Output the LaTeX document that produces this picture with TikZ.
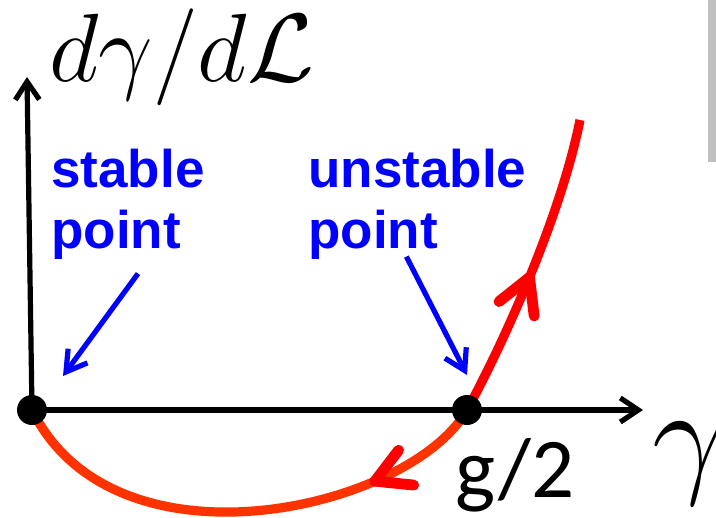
\RequirePackage{fix-cm}
\documentclass[tikz,border=0pt]{standalone}
\usepackage{fontspec}
\newfontfamily\labelfont{Liberation Sans}
\newfontfamily\valfont{Carlito}
\usetikzlibrary{arrows.meta, calc, decorations.markings, backgrounds}

\definecolor{flowred}{RGB}{255,0,0}
\definecolor{floworange}{RGB}{255,51,0}
\definecolor{bargray}{RGB}{192,192,192}

\begin{document}
\begin{tikzpicture}[
    x=0.5pt, y=-0.5pt,
    dotnode/.style={circle, fill=black, minimum size=15pt, inner sep=0pt},
    axis/.style={-{Straight Barb[length=9pt, width=12pt]}, line width=2.6pt},
    flow/.style={line width=4.6pt, color=#1},
    pointer/.style={-{Straight Barb[length=10pt, width=12pt]}, line width=2.6pt, blue},
    lbl/.style={font=\labelfont\bfseries\fontsize{26.5}{30.5}\selectfont, text=blue,
                align=left, inner sep=0pt, anchor=west},
    midarrow/.style={postaction={decorate, decoration={markings,
        mark=at position #1 with {\draw[flowred, line width=5.4pt, line cap=round,
          line join=round] (-17pt,9.5pt) -- (0pt,0pt) -- (-17pt,-9.5pt);}}}}
  ]

  \useasboundingbox (0,0) rectangle (716,518);
  \fill[bargray] (708,0) rectangle (716,162);

  \node[dotnode] (stable) at (32,410) {};
  \node[dotnode] (unstable) at (467,410) {};
  \coordinate (ytop) at (27,77);
  \coordinate (xend) at (643,410);
  \coordinate (flowend) at (580,120);

  % axes and flow lines go under the dots
  \begin{scope}[on background layer]
    \draw[axis] (stable.center) -- (ytop);
    \draw[axis] (stable.center) -- (xend);
    \draw[flow=floworange, midarrow=0.235] (unstable.center)
      .. controls (410,510) and (115,578) .. (stable.center);
    \draw[flow=flowred, midarrow=0.47] (unstable.center)
      .. controls (500,350) and (560,220) .. (flowend);
  \end{scope}

  \node[anchor=base west, inner sep=0pt, font=\fontsize{48.5}{58}\selectfont]
    (ylabel) at (49,82) {$d\gamma/d\mathcal{L}$};
  \node[anchor=base west, inner sep=0pt, font=\fontsize{66}{78}\selectfont]
    (xlabel) at (652,479) {$\gamma$};
  \node[anchor=base west, inner sep=0pt, font=\valfont\fontsize{42.5}{50}\selectfont]
    (halfg) at (455,497) {g/2};

  \node[lbl] (stable-lbl) at (51,204) {stable\\point};
  \node[lbl] (unstable-lbl) at (308,204) {unstable\\point};

  \coordinate (stable-tip) at ($(stable)+(31,-34)$);
  \coordinate (unstable-tip) at ($(unstable)+(0,-35)$);
  \draw[pointer] ($(stable-lbl.south)+(10,14)$) -- (stable-tip);
  \draw[pointer] ($(unstable-lbl.south)+(-11,-3)$) -- (unstable-tip);

\end{tikzpicture}
\end{document}
